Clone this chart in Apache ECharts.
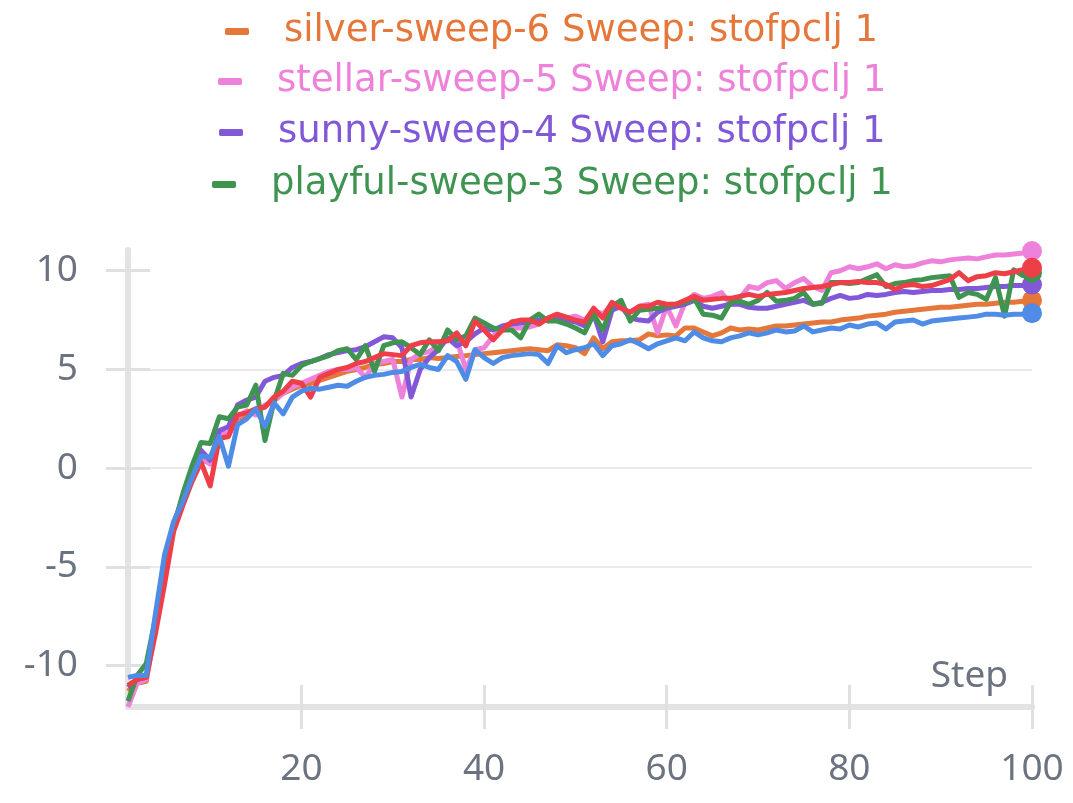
<!DOCTYPE html>
<html>
<head>
<meta charset="utf-8">
<script src="https://cdn.jsdelivr.net/npm/echarts@6/dist/echarts.min.js"></script>
<style>
  html, body { margin: 0; padding: 0; background: #ffffff; }
  #chart { width: 1073px; height: 803px; }
</style>
</head>
<body>
<div id="chart"></div>
<script>
// Training steps 1..100
const steps = Array.from({ length: 100 }, (_, i) => i + 1);

const runNames = [
  'silver-sweep-6 Sweep: stofpclj 1',
  'stellar-sweep-5 Sweep: stofpclj 1',
  'sunny-sweep-4 Sweep: stofpclj 1',
  'playful-sweep-3 Sweep: stofpclj 1',
  'sweep-2',
  'sweep-1'
];
const legendNames = runNames.slice(0, 4);
const runColors = ['#E5773A', '#EE82DA', '#8158D8', '#3E9450', '#EE3F48', '#4F8CE6'];

const xTickValues = [20, 40, 60, 80, 100];
const yTickValues = [-10, -5, 0, 5, 10];

const silver = [
  -11.3, -10.9, -10.8, -8.1, -5.4, -3.0, -1.7, -0.5, 0.4, 0.3,
  1.6, 1.7, 2.5, 2.7, 3.0, 3.1, 3.5, 3.8, 4.0, 4.2,
  4.3, 4.45, 4.6, 4.75, 4.9, 5.0, 5.1, 5.25, 5.3, 5.4,
  5.4, 5.5, 5.5, 5.6, 5.55, 5.6, 5.65, 5.7, 5.75, 5.8,
  5.85, 5.9, 5.95, 6.0, 6.05, 6.0, 5.95, 6.25, 6.2, 6.1,
  5.8, 6.6, 6.05, 6.4, 6.45, 6.45, 6.5, 6.8, 6.7, 6.75,
  6.7, 7.1, 7.1, 6.9, 6.7, 6.85, 7.1, 7.0, 7.05, 7.0,
  7.1, 7.2, 7.2, 7.25, 7.3, 7.35, 7.4, 7.4, 7.5, 7.55,
  7.6, 7.7, 7.75, 7.8, 7.9, 7.95, 8.0, 8.05, 8.1, 8.15,
  8.15, 8.2, 8.25, 8.3, 8.3, 8.35, 8.4, 8.4, 8.45, 8.5
];
const stellar = [
  -12.1, -10.9, -10.7, -8.0, -5.2, -3.0, -1.6, -0.4, 0.5, 0.2,
  1.7, 1.8, 2.6, 2.9, 2.7, 3.2, 3.4, 3.8, 4.1, 4.3,
  4.5, 4.7, 4.9, 5.0, 5.0, 5.1, 4.6, 5.3, 5.4, 5.5,
  3.6, 5.5, 5.8, 5.9, 6.2, 6.5, 6.5, 5.0, 6.0, 6.1,
  6.7, 7.0, 7.1, 7.1, 7.15, 7.3, 7.6, 7.5, 7.6, 7.7,
  7.5, 8.0, 7.8, 8.3, 8.1, 7.9, 8.2, 8.3, 6.85, 8.2,
  7.2, 8.4, 8.8, 8.6, 8.7, 8.9, 8.3, 8.6, 9.2, 9.1,
  9.4, 9.5, 9.1, 9.4, 9.6, 9.2, 9.0, 9.9, 10.0, 10.2,
  10.1, 10.2, 10.35, 10.1, 10.3, 10.2, 10.25, 10.4, 10.5, 10.45,
  10.55, 10.6, 10.65, 10.6, 10.7, 10.8, 10.8, 10.85, 10.9, 11.0
];
const sunny = [
  -11.1, -10.7, -10.6, -7.7, -4.8, -2.8, -1.5, -0.2, 0.9, 0.4,
  1.9, 2.1, 3.2, 3.45, 3.6, 4.4, 4.6, 4.7, 5.1, 5.3,
  5.4, 5.55, 5.75, 5.85, 5.95, 6.0, 6.15, 6.4, 6.65, 6.6,
  6.1, 3.6, 5.0, 5.6, 6.0, 6.6, 6.2, 6.4, 6.8, 7.1,
  7.0, 7.2, 7.3, 7.35, 7.4, 7.5, 7.55, 7.6, 7.5, 7.4,
  7.2, 7.8, 6.4, 8.0, 8.2, 7.6, 7.5, 7.45, 7.9, 8.1,
  8.2, 8.3, 8.5, 8.2, 8.1, 8.2, 8.3, 8.3, 8.15, 8.1,
  8.1, 8.2, 8.3, 8.4, 8.5, 8.3, 8.4, 8.6, 8.75, 8.6,
  8.65, 8.8, 8.75, 8.8, 8.9, 8.95, 8.9, 8.95, 9.0, 9.0,
  9.05, 9.05, 9.1, 9.1, 9.15, 9.2, 9.2, 9.25, 9.25, 9.3
];
const playful = [
  -11.8, -10.5, -9.9, -7.6, -5.6, -3.0, -1.3, 0.1, 1.3, 1.25,
  2.6, 2.5, 3.1, 3.2, 4.2, 1.4, 3.4, 4.8, 4.7, 5.2,
  5.4, 5.55, 5.7, 5.95, 6.05, 5.5, 6.2, 4.9, 6.2, 6.35,
  6.4, 6.1, 5.75, 6.5, 5.95, 7.0, 6.5, 6.7, 7.6, 7.35,
  7.1, 7.0, 7.0, 6.6, 7.5, 7.8, 7.45, 7.45, 7.3, 7.1,
  6.85, 7.8, 7.0, 8.2, 8.5, 7.45, 8.0, 8.05, 8.1, 8.2,
  8.3, 8.4, 8.6, 7.8, 7.75, 7.6, 8.4, 8.45, 8.3, 8.5,
  8.9, 8.45, 8.5, 8.6, 8.9, 8.3, 8.35, 9.4, 9.4, 9.35,
  9.4, 9.6, 9.8, 9.2, 9.35, 9.4, 9.5, 9.55, 9.65, 9.7,
  9.75, 8.65, 8.9, 8.8, 8.55, 9.65, 7.7, 10.05, 9.75, 9.9
];
const sweep2 = [
  -11.0, -10.7, -10.6, -8.4, -5.9, -3.2, -1.9, -0.7, 0.3, -0.9,
  1.5, 1.6, 2.7, 2.8, 3.0, 3.1, 3.6, 3.9, 4.4, 4.3,
  3.6, 4.6, 4.8, 5.0, 5.1, 5.3, 5.4, 5.6, 5.8, 5.75,
  5.7, 6.2, 6.35, 6.4, 6.4, 6.45, 6.85, 6.2, 7.45, 7.0,
  6.5, 7.0, 7.4, 7.5, 7.5, 7.3, 7.6, 7.8, 7.65, 7.5,
  7.4, 8.1, 7.6, 8.4, 8.1, 7.9, 8.2, 8.2, 8.4, 8.3,
  8.3, 8.5, 8.7, 8.5, 8.55, 8.6, 8.6, 8.7, 8.8, 8.7,
  8.8, 8.85, 8.9, 9.0, 9.1, 9.15, 9.2, 9.3, 9.4, 9.4,
  9.45, 9.4, 9.4, 9.3, 9.05, 9.25, 9.3, 9.2, 9.25, 9.4,
  9.55, 9.9, 9.5, 9.7, 9.75, 9.9, 9.85, 9.95, 10.05, 10.15
];
const sweep1 = [
  -10.6, -10.5, -10.5, -7.4, -4.4, -2.7, -1.7, -0.5, 0.6, 0.55,
  1.6, 0.1, 2.2, 2.5, 3.0, 2.1, 3.3, 2.75, 3.6, 3.9,
  4.05, 4.0, 4.1, 4.2, 4.15, 4.4, 4.6, 4.7, 4.75, 4.85,
  4.9, 5.1, 5.25, 5.1, 5.0, 5.7, 5.4, 4.5, 6.0, 5.6,
  5.3, 5.6, 5.7, 5.75, 5.8, 5.75, 5.3, 6.2, 5.85, 6.0,
  6.1, 6.3, 5.7, 6.2, 6.3, 6.5, 6.3, 6.05, 6.3, 6.45,
  6.6, 6.45, 6.9, 6.6, 6.45, 6.4, 6.6, 6.7, 6.85, 6.75,
  6.85, 7.0, 6.9, 6.95, 7.2, 6.9, 7.0, 7.1, 7.05, 7.25,
  7.15, 7.3, 7.35, 7.05, 7.4, 7.45, 7.5, 7.3, 7.45, 7.5,
  7.55, 7.6, 7.65, 7.7, 7.8, 7.8, 7.75, 7.8, 7.8, 7.85
];

const runValues = [silver, stellar, sunny, playful, sweep2, sweep1];

const FONT = '"Noto Sans", sans-serif';
const LEGEND_FONT = '"DejaVu Sans", sans-serif';
const LEGEND_SIZE = 37;
const LABEL_COLOR = '#6B7280';
const AXIS_COLOR = '#E3E3E3';
const TICK_COLOR = '#E0E0E0';

// each run is a line; its final step carries a round marker
const series = runNames.map((name, i) => ({
  name: name,
  type: 'line',
  xAxisIndex: 0,
  yAxisIndex: 0,
  symbol: 'none',
  showSymbol: true,
  lineStyle: { width: 5, color: runColors[i], join: 'round' },
  itemStyle: { color: runColors[i] },
  emphasis: { disabled: true },
  data: steps.map((s, k) => k === steps.length - 1
    ? { value: [s, runValues[i][k]], symbol: 'circle', symbolSize: 20 }
    : [s, runValues[i][k]])
}));

// one legend row per named run, each centred on the plot's middle
const measureCtx = document.createElement('canvas').getContext('2d');
measureCtx.font = LEGEND_SIZE + 'px ' + LEGEND_FONT;
const ICON_W = 24, ICON_GAP = 5, TEXT_PAD = 30, ROW_CENTER = 552;
const legendTops = [13, 63, 114, 166];
const legends = legendNames.map((name, i) => {
  const rowWidth = ICON_W + ICON_GAP + TEXT_PAD + measureCtx.measureText(name).width;
  return {
    data: [name],
    left: Math.round(ROW_CENTER - rowWidth / 2),
    top: legendTops[i],
    padding: 0,
    orient: 'horizontal',
    icon: 'roundRect',
    itemWidth: ICON_W,
    itemHeight: 7,
    selectedMode: false,
    textStyle: { color: runColors[i], fontSize: LEGEND_SIZE, fontFamily: LEGEND_FONT, padding: [0, 0, 0, TEXT_PAD] }
  };
});

const option = {
  animation: false,
  backgroundColor: '#ffffff',
  legend: legends,
  grid: { left: 128, right: 41, top: 250, bottom: 96 },
  xAxis: [
    {
      type: 'value', min: 1, max: 100, position: 'bottom',
      name: 'Step', nameLocation: 'end', nameGap: -24,
      nameTextStyle: { color: LABEL_COLOR, fontSize: 37, fontFamily: FONT, align: 'right', verticalAlign: 'bottom', padding: [0, 0, 12, 0] },
      axisLine: { show: true, onZero: false, lineStyle: { color: AXIS_COLOR, width: 6 } },
      axisTick: { show: true, customValues: xTickValues, length: 22, lineStyle: { color: TICK_COLOR, width: 3 } },
      axisLabel: { customValues: xTickValues, margin: 44, color: LABEL_COLOR, fontSize: 37, fontFamily: FONT },
      splitLine: { show: false }
    },
    {
      type: 'value', min: 1, max: 100, position: 'bottom',
      axisLine: { show: true, onZero: false, lineStyle: { color: AXIS_COLOR, width: 6 } },
      axisTick: { show: true, inside: true, customValues: xTickValues, length: 22, lineStyle: { color: TICK_COLOR, width: 3 } },
      axisLabel: { show: false },
      splitLine: { show: false }
    }
  ],
  yAxis: [
    {
      type: 'value', min: -12.1, max: 11.05, position: 'left',
      axisLine: { show: true, onZero: false, lineStyle: { color: AXIS_COLOR, width: 6 } },
      axisTick: { show: true, customValues: yTickValues, length: 22, lineStyle: { color: TICK_COLOR, width: 3 } },
      axisLabel: { customValues: yTickValues, margin: 50, color: LABEL_COLOR, fontSize: 37, fontFamily: FONT },
      splitLine: { show: true, showMinLine: false, showMaxLine: false, lineStyle: { color: '#EAEAEE', width: 2 } }
    },
    {
      type: 'value', min: -12.1, max: 11.05, position: 'left',
      axisLine: { show: false, onZero: false },
      axisTick: { show: true, inside: true, customValues: yTickValues, length: 22, lineStyle: { color: TICK_COLOR, width: 3 } },
      axisLabel: { show: false },
      splitLine: { show: false }
    }
  ],
  series: series
};

const chart = echarts.init(document.getElementById('chart'), null, { renderer: 'canvas' });
chart.setOption(option);
</script>
</body>
</html>
